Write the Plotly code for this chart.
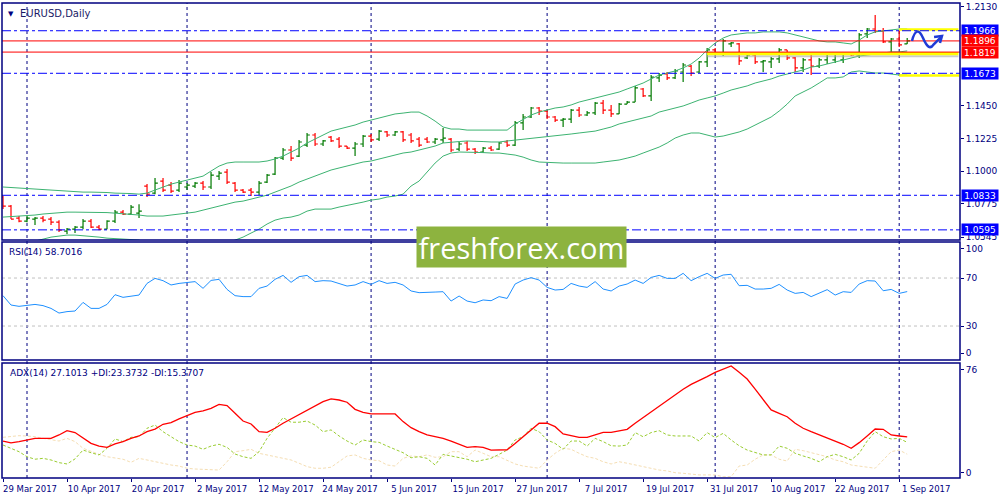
import pandas as pd
import plotly.graph_objects as go

# trading days shown on the chart (29 Mar 2017 .. 4 Sep 2017, weekdays)
dates = [d.strftime("%Y-%m-%d") for d in pd.bdate_range("2017-03-29", "2017-09-04")]

opens = [1.0821, 1.0759, 1.0676, 1.0655, 1.0669, 1.0676, 1.0669, 1.0648, 1.0586, 1.0600,
         1.0614, 1.0655, 1.0614, 1.0600, 1.0655, 1.0717, 1.0704, 1.0710, 1.0896, 1.0848,
         1.0931, 1.0903, 1.0869, 1.0890, 1.0896, 1.0917, 1.0890, 1.0965, 1.0993, 1.0917,
         1.0869, 1.0869, 1.0855, 1.0924, 1.0979, 1.1089, 1.1145, 1.1103, 1.1179, 1.1248,
         1.1186, 1.1234, 1.1220, 1.1172, 1.1158, 1.1186, 1.1241, 1.1220, 1.1269, 1.1248,
         1.1269, 1.1248, 1.1220, 1.1220, 1.1200, 1.1214, 1.1220, 1.1151, 1.1193, 1.1151,
         1.1131, 1.1158, 1.1151, 1.1200, 1.1179, 1.1331, 1.1372, 1.1434, 1.1413, 1.1372,
         1.1351, 1.1358, 1.1420, 1.1386, 1.1400, 1.1468, 1.1420, 1.1393, 1.1461, 1.1475,
         1.1565, 1.1517, 1.1641, 1.1668, 1.1641, 1.1682, 1.1723, 1.1682, 1.1751, 1.1834,
         1.1813, 1.1875, 1.1875, 1.1779, 1.1799, 1.1751, 1.1751, 1.1772, 1.1834, 1.1779,
         1.1710, 1.1765, 1.1723, 1.1765, 1.1765, 1.1765, 1.1813, 1.1799, 1.1944, 1.1978,
         1.1964, 1.1889, 1.1909, 1.1875]
highs = [1.0828, 1.0766, 1.0690, 1.0690, 1.0683, 1.0690, 1.0683, 1.0662, 1.0607, 1.0621,
         1.0669, 1.0669, 1.0628, 1.0662, 1.0731, 1.0731, 1.0766, 1.0772, 1.0910, 1.0952,
         1.0952, 1.0924, 1.0938, 1.0917, 1.0924, 1.0931, 1.0993, 1.1000, 1.1014, 1.0924,
         1.0876, 1.0883, 1.0931, 1.0979, 1.1096, 1.1158, 1.1172, 1.1213, 1.1262, 1.1262,
         1.1214, 1.1241, 1.1234, 1.1172, 1.1200, 1.1248, 1.1255, 1.1282, 1.1275, 1.1275,
         1.1275, 1.1262, 1.1234, 1.1234, 1.1227, 1.1296, 1.1227, 1.1200, 1.1207, 1.1158,
         1.1165, 1.1172, 1.1200, 1.1214, 1.1344, 1.1393, 1.1441, 1.1441, 1.1420, 1.1379,
         1.1365, 1.1427, 1.1441, 1.1413, 1.1475, 1.1489, 1.1455, 1.1468, 1.1482, 1.1585,
         1.1572, 1.1661, 1.1675, 1.1682, 1.1703, 1.1744, 1.1730, 1.1758, 1.1847, 1.1847,
         1.1909, 1.1889, 1.1882, 1.1813, 1.1820, 1.1765, 1.1785, 1.1847, 1.1834, 1.1785,
         1.1779, 1.1799, 1.1779, 1.1820, 1.1820, 1.1820, 1.1820, 1.1951, 1.1985, 1.2075,
         1.1985, 1.1916, 1.1971, 1.1916]
lows = [1.0738, 1.0669, 1.0648, 1.0648, 1.0628, 1.0648, 1.0628, 1.0580, 1.0566, 1.0573,
        1.0600, 1.0607, 1.0593, 1.0600, 1.0642, 1.0697, 1.0697, 1.0676, 1.0821, 1.0841,
        1.0855, 1.0848, 1.0855, 1.0869, 1.0883, 1.0869, 1.0876, 1.0938, 1.0910, 1.0855,
        1.0848, 1.0828, 1.0835, 1.0917, 1.0972, 1.1076, 1.1069, 1.1096, 1.1165, 1.1172,
        1.1172, 1.1200, 1.1158, 1.1151, 1.1103, 1.1165, 1.1200, 1.1207, 1.1234, 1.1241,
        1.1200, 1.1193, 1.1165, 1.1193, 1.1186, 1.1193, 1.1131, 1.1138, 1.1138, 1.1117,
        1.1124, 1.1138, 1.1145, 1.1165, 1.1172, 1.1282, 1.1365, 1.1386, 1.1358, 1.1337,
        1.1303, 1.1331, 1.1372, 1.1379, 1.1386, 1.1393, 1.1372, 1.1393, 1.1461, 1.1475,
        1.1510, 1.1482, 1.1613, 1.1627, 1.1634, 1.1613, 1.1654, 1.1675, 1.1716, 1.1799,
        1.1792, 1.1854, 1.1730, 1.1772, 1.1737, 1.1682, 1.1710, 1.1744, 1.1765, 1.1682,
        1.1682, 1.1661, 1.1710, 1.1737, 1.1744, 1.1744, 1.1792, 1.1779, 1.1916, 1.1951,
        1.1882, 1.1820, 1.1854, 1.1875]
closes = [1.0759, 1.0669, 1.0655, 1.0676, 1.0676, 1.0662, 1.0648, 1.0593, 1.0600, 1.0614,
          1.0655, 1.0614, 1.0600, 1.0655, 1.0717, 1.0704, 1.0752, 1.0724, 1.0841, 1.0917,
          1.0869, 1.0862, 1.0917, 1.0903, 1.0917, 1.0890, 1.0972, 1.0986, 1.0924, 1.0869,
          1.0855, 1.0855, 1.0917, 1.0972, 1.1089, 1.1145, 1.1089, 1.1200, 1.1248, 1.1186,
          1.1207, 1.1207, 1.1172, 1.1158, 1.1186, 1.1241, 1.1214, 1.1275, 1.1248, 1.1269,
          1.1214, 1.1207, 1.1179, 1.1200, 1.1220, 1.1227, 1.1145, 1.1186, 1.1151, 1.1131,
          1.1158, 1.1145, 1.1193, 1.1179, 1.1331, 1.1372, 1.1434, 1.1413, 1.1372, 1.1351,
          1.1358, 1.1420, 1.1386, 1.1400, 1.1468, 1.1420, 1.1393, 1.1461, 1.1475, 1.1572,
          1.1517, 1.1647, 1.1661, 1.1641, 1.1689, 1.1730, 1.1675, 1.1751, 1.1834, 1.1813,
          1.1896, 1.1882, 1.1758, 1.1799, 1.1751, 1.1758, 1.1772, 1.1834, 1.1779, 1.1710,
          1.1765, 1.1723, 1.1765, 1.1813, 1.1813, 1.1813, 1.1799, 1.1937, 1.1978, 1.1964,
          1.1889, 1.1909, 1.1868, 1.1896]

# Bollinger bands
bb_upper = [1.0890, 1.0886, 1.0883, 1.0883, 1.0876, 1.0872, 1.0869, 1.0862, 1.0862, 1.0859,
            1.0855, 1.0855, 1.0855, 1.0852, 1.0848, 1.0848, 1.0845, 1.0841, 1.0848, 1.0869,
            1.0890, 1.0910, 1.0924, 1.0938, 1.0952, 1.0965, 1.1000, 1.1034, 1.1055, 1.1062,
            1.1062, 1.1062, 1.1062, 1.1069, 1.1083, 1.1103, 1.1131, 1.1158, 1.1193, 1.1220,
            1.1248, 1.1275, 1.1289, 1.1303, 1.1317, 1.1337, 1.1351, 1.1365, 1.1379, 1.1393,
            1.1399, 1.1406, 1.1406, 1.1379, 1.1344, 1.1303, 1.1289, 1.1289, 1.1282, 1.1282,
            1.1282, 1.1282, 1.1282, 1.1282, 1.1324, 1.1358, 1.1386, 1.1406, 1.1420, 1.1434,
            1.1441, 1.1455, 1.1475, 1.1489, 1.1503, 1.1517, 1.1530, 1.1544, 1.1565, 1.1586,
            1.1606, 1.1634, 1.1661, 1.1675, 1.1689, 1.1710, 1.1737, 1.1778, 1.1834, 1.1882,
            1.1916, 1.1937, 1.1944, 1.1951, 1.1951, 1.1958, 1.1958, 1.1958, 1.1951, 1.1937,
            1.1923, 1.1909, 1.1896, 1.1889, 1.1889, 1.1882, 1.1875, 1.1902, 1.1937, 1.1958,
            1.1964, 1.1971, 1.1978, 1.1978]
bb_middle = [1.0683, 1.0686, 1.0690, 1.0693, 1.0697, 1.0704, 1.0710, 1.0714, 1.0717, 1.0717,
             1.0717, 1.0717, 1.0717, 1.0714, 1.0710, 1.0707, 1.0704, 1.0697, 1.0690, 1.0690,
             1.0690, 1.0697, 1.0704, 1.0710, 1.0717, 1.0731, 1.0745, 1.0759, 1.0772, 1.0786,
             1.0793, 1.0807, 1.0821, 1.0834, 1.0855, 1.0876, 1.0897, 1.0924, 1.0945, 1.0965,
             1.0986, 1.1007, 1.1021, 1.1034, 1.1048, 1.1062, 1.1069, 1.1083, 1.1096, 1.1110,
             1.1124, 1.1131, 1.1145, 1.1158, 1.1172, 1.1193, 1.1200, 1.1203, 1.1207, 1.1207,
             1.1203, 1.1200, 1.1200, 1.1207, 1.1213, 1.1217, 1.1220, 1.1227, 1.1234, 1.1241,
             1.1248, 1.1255, 1.1262, 1.1269, 1.1275, 1.1289, 1.1303, 1.1324, 1.1337, 1.1351,
             1.1365, 1.1379, 1.1406, 1.1420, 1.1434, 1.1448, 1.1468, 1.1489, 1.1503, 1.1517,
             1.1537, 1.1558, 1.1572, 1.1586, 1.1606, 1.1620, 1.1634, 1.1654, 1.1668, 1.1682,
             1.1696, 1.1716, 1.1723, 1.1737, 1.1751, 1.1765, 1.1778, 1.1792, 1.1799, 1.1806,
             1.1813, 1.1820, 1.1820, 1.1827]
bb_lower = [1.0476, 1.0490, 1.0504, 1.0511, 1.0518, 1.0531, 1.0545, 1.0552, 1.0559, 1.0559,
            1.0555, 1.0552, 1.0545, 1.0538, 1.0535, 1.0531, 1.0528, 1.0525, 1.0504, 1.0483,
            1.0462, 1.0456, 1.0456, 1.0462, 1.0469, 1.0476, 1.0483, 1.0490, 1.0504, 1.0525,
            1.0545, 1.0573, 1.0600, 1.0635, 1.0662, 1.0676, 1.0683, 1.0697, 1.0724, 1.0738,
            1.0738, 1.0738, 1.0752, 1.0762, 1.0772, 1.0786, 1.0800, 1.0807, 1.0821, 1.0828,
            1.0841, 1.0897, 1.0931, 1.0993, 1.1055, 1.1103, 1.1124, 1.1131, 1.1131, 1.1131,
            1.1127, 1.1124, 1.1124, 1.1117, 1.1110, 1.1096, 1.1076, 1.1062, 1.1059, 1.1055,
            1.1055, 1.1055, 1.1055, 1.1055, 1.1055, 1.1062, 1.1069, 1.1076, 1.1089, 1.1103,
            1.1124, 1.1145, 1.1165, 1.1193, 1.1227, 1.1248, 1.1262, 1.1262, 1.1248, 1.1234,
            1.1241, 1.1255, 1.1269, 1.1289, 1.1317, 1.1344, 1.1372, 1.1413, 1.1461, 1.1517,
            1.1544, 1.1572, 1.1606, 1.1641, 1.1641, 1.1648, 1.1682, 1.1689, 1.1682, 1.1675,
            1.1675, 1.1668, 1.1661, 1.1661]

rsi = [55.3, 47.5, 46.4, 47.2, 48, 47, 44.7, 40.8, 42, 42.5,
       49.7, 44.7, 44.7, 48, 56.1, 53.9, 55, 55.8, 65.5, 69.7,
       67.8, 64.2, 65.5, 66.1, 67, 61.4, 68, 68.9, 60.5, 55.3,
       54.5, 54.5, 61.4, 63.3, 68.9, 72.2, 66.4, 71.1, 72.2, 67,
       67.8, 67.5, 65.5, 63.3, 64.2, 67, 64.7, 67.8, 65.5, 66.4,
       64.2, 59.2, 57.8, 57.8, 58.3, 58.6, 50.8, 55, 50.8, 49.4,
       51.7, 51.1, 54.5, 53, 65, 68.3, 70.3, 68.3, 62.2, 60,
       60.5, 65.5, 63.3, 62.2, 67, 60.8, 59.2, 63.3, 65, 68.3,
       65.5, 70.5, 72.2, 69.7, 69.7, 73.9, 67.8, 71.1, 73.9, 69.7,
       72.5, 73.1, 63.6, 63.9, 60.8, 60.8, 61.4, 64.7, 60, 57.2,
       58, 54.5, 57.2, 60.3, 55.8, 58.6, 58, 65, 67.8, 67.5,
       59.4, 60.5, 57.2, 58.7]

adx = [24.3, 23, 23.9, 25, 26.1, 26.1, 26.1, 28.4, 31.3, 30,
       26.1, 22.7, 20.9, 20, 22.3, 23.9, 26.1, 27.7, 30.6, 32.4,
       35.6, 36.7, 39.2, 41.2, 43.7, 44.6, 46.4, 49.1, 48.2, 43,
       37.8, 35.8, 30.6, 30.2, 32.9, 36.3, 39.2, 42.6, 45.3, 48.2,
       50.9, 52.7, 52, 50.5, 45.7, 43.7, 42.6, 42.6, 42.6, 42.6,
       37.4, 33.3, 30.6, 28.4, 27.2, 26.1, 24.3, 22.3, 20, 20.5,
       20, 18.2, 18.2, 18.4, 22.7, 27.2, 32.2, 36.3, 36.3, 34,
       29.1, 27.7, 26.8, 26.8, 28.4, 30.2, 30.2, 31.1, 32.2, 36.3,
       40.1, 44.1, 48.2, 52, 55.9, 59.3, 62.6, 65.1, 67.8, 70.7,
       73, 75, 70.7, 66.2, 59.3, 52.5, 45.3, 43, 40.7, 36.3,
       32.9, 30.6, 28.4, 26.6, 24.3, 22.1, 19.4, 23.2, 27.7, 32.4,
       32.2, 28.4, 27.7, 27.1]
plus_di = [21.6, 19.4, 17.1, 13.7, 12, 12.6, 11.5, 9.7, 8.8, 12.2,
           18.2, 16.4, 14.9, 19.4, 25.7, 23.9, 26.8, 27.2, 32.9, 35.1,
           30.6, 27.2, 23.9, 21.6, 20.9, 18.7, 20.9, 22.1, 20, 15.5,
           13.7, 12.6, 17.1, 26.1, 32.9, 40.1, 37, 37, 37.8, 35.1,
           30.6, 31.8, 27.7, 24.3, 21.6, 25, 23.9, 23.4, 20.9, 18.7,
           16.4, 13, 13.7, 12.6, 8.1, 15.3, 14.2, 12.6, 12, 10.3,
           11.5, 12.6, 15.3, 18.2, 25, 27.2, 32.9, 30.6, 25, 22.7,
           18.7, 24.3, 24.3, 20.9, 26.1, 23.9, 21.1, 20.9, 21.6, 30,
           27.2, 30, 31.3, 28.4, 27.7, 27.7, 27.7, 24.3, 30, 26.6,
           29.5, 25, 21.1, 18.2, 16.4, 14.9, 14.9, 20.9, 19.4, 16,
           14.2, 12.6, 10.3, 13.7, 15.3, 13.7, 11.5, 16, 24.3, 30.6,
           27.2, 25.7, 26.1, 23.4]
minus_di = [26.8, 27.2, 27.9, 27.7, 27.2, 26.1, 25, 24.3, 26.1, 23.9,
            19.4, 17.1, 15.3, 13.7, 13, 12, 9.9, 12.6, 11.5, 10.3,
            9.3, 8.1, 7.4, 5.9, 5.4, 5.2, 4.7, 4.7, 10.3, 17.1,
            17.8, 18.7, 16, 14.9, 13.7, 12.6, 11.5, 9.3, 7, 5.9,
            5.9, 6.6, 10.3, 14.2, 14.9, 12.6, 11.5, 11, 8.1, 7.4,
            12.6, 14.2, 13.7, 14.9, 13.3, 13.7, 17.1, 17.1, 13.7, 18.2,
            16, 13.7, 13.7, 11.5, 8.8, 7.4, 6.6, 5.9, 11.5, 16,
            19.4, 18.7, 16, 13.7, 12.6, 10.3, 8.8, 10.3, 9.3, 8.1,
            6.6, 5.9, 4.7, 4.1, 2.9, 2.5, 1.8, 1.4, 1.4, 1.4,
            0.2, 0.2, 7.4, 8.1, 12, 14.9, 14.9, 12, 10.8, 18.7,
            17.8, 16.4, 14.9, 13.7, 11.5, 10.3, 8.1, 7.4, 6.3, 5.9,
            11.5, 17.1, 18.2, 15.4]

# x axis labels and month separators
tick_dates = ["2017-03-29", "2017-04-10", "2017-04-20", "2017-05-02", "2017-05-12",
              "2017-05-24", "2017-06-05", "2017-06-15", "2017-06-27", "2017-07-07",
              "2017-07-19", "2017-07-31", "2017-08-10", "2017-08-22", "2017-09-01"]
tick_labels = ["29 Mar 2017", "10 Apr 2017", "20 Apr 2017", "2 May 2017", "12 May 2017",
               "24 May 2017", "5 Jun 2017", "15 Jun 2017", "27 Jun 2017", "7 Jul 2017",
               "19 Jul 2017", "31 Jul 2017", "10 Aug 2017", "22 Aug 2017", "1 Sep 2017"]
month_starts = ["2017-04-03", "2017-05-01", "2017-06-01", "2017-07-03", "2017-08-01", "2017-09-01"]

price_ticks = [1.2130, 1.1450, 1.1225, 1.1000, 1.0775, 1.0545]
blue_levels = [1.1966, 1.1673, 1.0833, 1.0595]
red_levels = [1.1896, 1.1819]

NAVY = "#000080"
FONT = "DejaVu Sans"

fig = go.Figure()

fig.add_trace(go.Scatter(x=dates, y=bb_upper, mode="lines", line=dict(color="#3cb371", width=1)))
fig.add_trace(go.Scatter(x=dates, y=bb_middle, mode="lines", line=dict(color="#3cb371", width=1)))
fig.add_trace(go.Scatter(x=dates, y=bb_lower, mode="lines", line=dict(color="#3cb371", width=1)))
fig.add_trace(go.Ohlc(x=dates, open=opens, high=highs, low=lows, close=closes, tickwidth=0.35,
                      increasing=dict(line=dict(color="#007a00", width=1.2)),
                      decreasing=dict(line=dict(color="#ff0000", width=1.2))))

fig.add_trace(go.Scatter(x=dates, y=rsi, mode="lines", yaxis="y2",
                         line=dict(color="#1e90ff", width=1)))

fig.add_trace(go.Scatter(x=dates, y=minus_di, mode="lines", yaxis="y3",
                         line=dict(color="#f5deb3", width=1, dash="3px,2px")))
fig.add_trace(go.Scatter(x=dates, y=plus_di, mode="lines", yaxis="y3",
                         line=dict(color="#9acd32", width=1, dash="3px,2px")))
fig.add_trace(go.Scatter(x=dates, y=adx, mode="lines", yaxis="y3",
                         line=dict(color="#ff0000", width=1.3)))

shapes = []
# month separators through all panels
for d in month_starts:
    shapes.append(dict(type="line", xref="x", yref="paper", x0=d, x1=d, y0=0, y1=1,
                       line=dict(color=NAVY, width=1, dash="3px,3px"), layer="below"))
# yellow zones
last = len(dates) - 1
shapes.append(dict(type="rect", xref="x", yref="y", x0=88, x1=last + 6.4, y0=1.1784, y1=1.1797,
                   fillcolor="#a8a8a8", line_width=0, opacity=0.6))
shapes.append(dict(type="rect", xref="x", yref="y", x0=88, x1=last + 6.4, y0=1.1797, y1=1.1819,
                   fillcolor="#ffff00", line_width=0))
shapes.append(dict(type="rect", xref="x", yref="y", x0=last - 1, x1=last + 6.4, y0=1.1966, y1=1.1984,
                   fillcolor="#ffff00", line_width=0))
shapes.append(dict(type="rect", xref="x", yref="y", x0=last - 1, x1=last + 6.5, y0=1.1650, y1=1.1666,
                   fillcolor="#ffff00", line_width=0))
# horizontal levels
for lv in blue_levels:
    shapes.append(dict(type="line", xref="paper", yref="y", x0=0, x1=1, y0=lv, y1=lv,
                       line=dict(color="#0000ff", width=1, dash="9px,3px,3px,3px")))
for lv in red_levels:
    shapes.append(dict(type="line", xref="paper", yref="y", x0=0, x1=1, y0=lv, y1=lv,
                       line=dict(color="#ff0000", width=1)))
# RSI levels
for lv in (70, 30):
    shapes.append(dict(type="line", xref="paper", yref="y2", x0=0, x1=1, y0=lv, y1=lv,
                       line=dict(color="#c0c0c0", width=1, dash="3px,3px"), layer="below"))
# panel frames
for ax in ("y", "y2", "y3"):
    shapes.append(dict(type="rect", xref="paper", yref=ax + " domain", x0=0, x1=1, y0=0, y1=1,
                       line=dict(color=NAVY, width=1.5)))


# hand drawn arrow, given in pixels of the 1000x500 picture
def px(x, y):
    return f"{(x - 2) / 958:.4f},{(478 - y) / 475:.4f}"


wave = f"M{px(912, 41)} C{px(915, 29)} {px(919, 29)} {px(923, 38)} S{px(930, 50)} {px(934, 44)} L{px(941, 37)}"
head = f"M{px(934, 37)} L{px(942, 36)} L{px(940, 43)}"
for p in (wave, head):
    shapes.append(dict(type="path", xref="paper", yref="paper", path=p,
                       line=dict(color="#1f3bd6", width=2.5)))

annotations = [
    dict(text="▼", x=0.004, y=1, xref="paper", yref="paper", xanchor="left", yanchor="top",
         yshift=-5, showarrow=False, font=dict(family=FONT, size=7, color=NAVY)),
    dict(text="EURUSD,Daily", x=0.017, y=1, xref="paper", yref="paper", xanchor="left", yanchor="top",
         yshift=-3, showarrow=False, font=dict(family=FONT, size=10, color="#1a1a66")),
    dict(text="RSI(14) 58.7016", x=0.005, y=0.4968, xref="paper", yref="paper", xanchor="left",
         yanchor="top", yshift=-3, showarrow=False, font=dict(family=FONT, size=9, color=NAVY)),
    dict(text="ADX(14) 27.1013 +DI:23.3732 -DI:15.3707", x=0.006, y=0.2421, xref="paper",
         yref="paper", xanchor="left", yanchor="top", yshift=-3, showarrow=False,
         font=dict(family=FONT, size=9, color=NAVY)),
    dict(text="freshforex.com", x=0.5418, y=0.4863, xref="paper", yref="paper", showarrow=False,
         bgcolor="#8db33f", width=209, height=40, borderpad=0,
         font=dict(family="Open Sans", size=29, color="white")),
]
box_colors = {1.1966: "#0000ff", 1.1896: "#ff0000", 1.1819: "#ff0000",
              1.1673: "#0000ff", 1.0833: "#0000ff", 1.0595: "#0000ff"}
for lv, col in box_colors.items():
    annotations.append(dict(text=f"{lv:.4f}", x=1, y=lv, xref="paper", yref="y", xanchor="left",
                            xshift=1, showarrow=False, bgcolor=col, width=36, height=11, borderpad=0,
                            font=dict(family=FONT, size=9, color="white")))

axis_common = dict(side="right", anchor="x", showgrid=False, zeroline=False, ticks="outside",
                   ticklen=3, tickcolor=NAVY, automargin=False,
                   tickfont=dict(family=FONT, size=9, color=NAVY))

fig.update_layout(
    width=1000, height=500,
    margin=dict(l=2, r=40, t=3, b=22),
    paper_bgcolor="white", plot_bgcolor="white",
    showlegend=False,
    shapes=shapes,
    annotations=annotations,
    xaxis=dict(type="category", range=[-0.125, 119.6], anchor="y3", showgrid=False,
               rangeslider=dict(visible=False), tickvals=tick_dates, ticktext=tick_labels,
               ticks="outside", ticklen=3, tickcolor=NAVY, ticklabelshift=27, tickangle=0,
               automargin=False, tickfont=dict(family=FONT, size=8.5, color=NAVY)),
    yaxis=dict(domain=[0.501, 1], range=[1.0525, 1.2157], tickvals=price_ticks,
               ticktext=[f"{v:.4f}" for v in price_ticks], **axis_common),
    yaxis2=dict(domain=[0.2484, 0.4968], range=[1.67, 100], tickvals=[94.2, 70, 30, 7.5],
                ticktext=["100", "70", "30", "0"], **axis_common),
    yaxis3=dict(domain=[0, 0.2421], range=[-0.68, 77], tickvals=[72.3, 2.7],
                ticktext=["76", "0"], **axis_common),
)

# the page is photographed at exactly 1000x500, so drop the default body margin
fig.write_html("out.html", config={"displayModeBar": False},
               post_script="document.body.style.margin='0';")
